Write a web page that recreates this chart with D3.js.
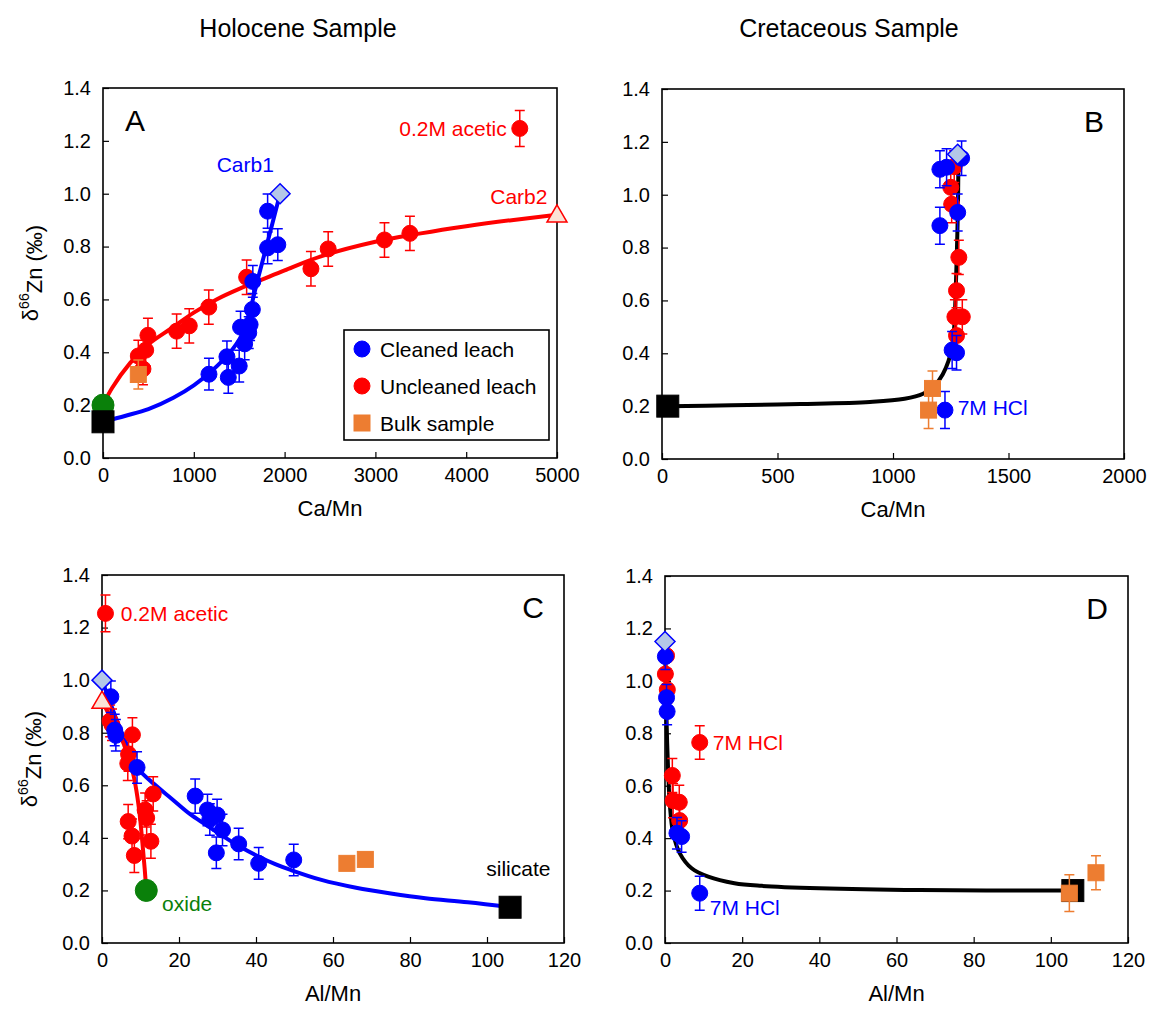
<!DOCTYPE html>
<html>
<head>
<meta charset="utf-8">
<script src="https://cdn.jsdelivr.net/npm/d3@7"></script>
<style>
  body { margin: 0; background: #fff; }
  svg text { font-family: "Liberation Sans", Arial, Helvetica, sans-serif; fill: #000; }
</style>
</head>
<body>
<svg id="chart" width="1149" height="1019"></svg>
<script>
// ── data: [x, δ66Zn, ±err] ────────────────────────────────────────────────
// Panel A – Holocene, Ca/Mn
const holoCaCleaned = [
    [1167, 0.317, 0.06], [1380, 0.305, 0.06], [1365, 0.383, 0.06], [1500, 0.348, 0.06],
    [1560, 0.432, 0.06], [1605, 0.474, 0.06], [1515, 0.495, 0.06], [1620, 0.505, 0.06],
    [1645, 0.562, 0.06], [1650, 0.668, 0.06], [1813, 0.795, 0.06], [1925, 0.807, 0.06],
    [1813, 0.934, 0.065]
];
const holoCaUncleaned = [
    [440, 0.337, 0.06], [389, 0.386, 0.06], [470, 0.408, 0.06], [495, 0.464, 0.065],
    [811, 0.48, 0.065], [950, 0.5, 0.065], [1165, 0.571, 0.065], [1582, 0.684, 0.065],
    [2290, 0.716, 0.065], [2480, 0.791, 0.065], [3100, 0.825, 0.065], [3380, 0.85, 0.065],
    [4590, 1.247, 0.068]
];
const holoCaBulk = [[389, 0.316, 0.055]];
const holoCaCarb1Line = [
    [0, 0.137], [250, 0.16], [500, 0.185], [775, 0.228], [1000, 0.275], [1200, 0.33],
    [1400, 0.4], [1520, 0.46], [1620, 0.56], [1700, 0.67], [1800, 0.8], [1950, 1.0]
];
const holoCaCarb2Line = [
    [0, 0.2], [100, 0.265], [300, 0.36], [500, 0.43], [750, 0.49], [1000, 0.55],
    [1250, 0.6], [1500, 0.64], [1750, 0.675], [2000, 0.71], [2400, 0.763], [3000, 0.818],
    [3500, 0.85], [4000, 0.877], [4500, 0.9], [5000, 0.92]
];

// Panel B – Cretaceous, Ca/Mn
const cretCaCleaned = [
    [1203, 1.096, 0.07], [1232, 1.104, 0.07], [1203, 0.883, 0.07], [1280, 0.933, 0.07],
    [1297, 1.138, 0.065], [1256, 0.412, 0.07], [1275, 0.402, 0.065], [1225, 0.185, 0.07]
];
const cretCaUncleaned = [
    [1265, 1.106, 0.06], [1250, 1.028, 0.06], [1254, 0.964, 0.07], [1285, 0.763, 0.065],
    [1275, 0.637, 0.065], [1268, 0.538, 0.065], [1300, 0.538, 0.065], [1275, 0.467, 0.065]
];
const cretCaBulk = [[1171, 0.267, 0.066], [1154, 0.185, 0.07]];
const cretCaLine = [
    [25, 0.2], [300, 0.203], [600, 0.208], [900, 0.216], [1050, 0.228], [1130, 0.247],
    [1180, 0.278], [1215, 0.32], [1240, 0.37], [1256, 0.43], [1265, 0.5], [1272, 0.65],
    [1277, 0.8], [1281, 0.95], [1283, 1.1], [1284, 1.15]
];

// Panel C – Holocene, Al/Mn
const holoAlCleaned = [
    [2.3, 0.937, 0.06], [3.3, 0.81, 0.06], [3.6, 0.79, 0.06], [9.1, 0.668, 0.06],
    [24.2, 0.559, 0.065], [27.4, 0.506, 0.06], [29.9, 0.487, 0.06], [28, 0.47, 0.06],
    [31.3, 0.43, 0.06], [29.7, 0.343, 0.06], [35.5, 0.377, 0.06], [40.7, 0.303, 0.06],
    [49.8, 0.316, 0.06]
];
const holoAlUncleaned = [
    [0.9, 1.254, 0.07], [2.1, 0.845, 0.06], [2.6, 0.83, 0.06], [7.9, 0.792, 0.065],
    [6.9, 0.718, 0.065], [6.7, 0.683, 0.065], [13.3, 0.567, 0.065], [11.2, 0.506, 0.065],
    [11.6, 0.476, 0.065], [6.8, 0.462, 0.065], [7.8, 0.407, 0.065], [12.7, 0.387, 0.065],
    [8.4, 0.333, 0.065]
];
const holoAlBulk = [[63.6, 0.303, 0], [68.4, 0.318, 0]];
const holoAlCarb1Line = [
    [0, 1.0], [2, 0.92], [4, 0.84], [6, 0.77], [9.1, 0.668], [14.3, 0.595], [18, 0.55],
    [22.9, 0.49], [27, 0.45], [31.6, 0.405], [36, 0.365], [40.5, 0.33], [45, 0.3],
    [49, 0.278], [57, 0.24], [66, 0.21], [75, 0.188], [84, 0.17], [95, 0.155], [106, 0.136]
];
const holoAlCarb2Line = [
    [0, 0.92], [2, 0.865], [4, 0.81], [6, 0.745], [7.5, 0.68], [8.7, 0.6], [9.7, 0.5],
    [10.5, 0.38], [11.1, 0.28], [11.5, 0.2]
];

// Panel D – Cretaceous, Al/Mn
const cretAlCleaned = [
    [0.1, 1.093, 0.05], [0.4, 0.936, 0.05], [0.55, 0.883, 0.05], [3.1, 0.419, 0.06],
    [4.3, 0.406, 0.06], [9.0, 0.19, 0.065]
];
const cretAlUncleaned = [
    [0.4, 1.096, 0.05], [0.1, 1.026, 0.05], [0.6, 0.966, 0.05], [9.0, 0.765, 0.064],
    [1.9, 0.639, 0.065], [2.1, 0.543, 0.065], [3.7, 0.537, 0.065], [3.8, 0.467, 0.065]
];
const cretAlBulk = [[104.8, 0.19, 0.07], [111.7, 0.268, 0.065]];
const cretAlLine = [
    [0, 1.15], [0.2, 1.0], [0.4, 0.85], [0.8, 0.66], [1.25, 0.53], [2.1, 0.42],
    [3.8, 0.343], [6.9, 0.285], [11.2, 0.253], [18, 0.228], [25, 0.218], [40, 0.209],
    [66, 0.202], [105.7, 0.2]
];

// ── tick labels ───────────────────────────────────────────────────────────
const yTicks   = [0, 0.2, 0.4, 0.6, 0.8, 1.0, 1.2, 1.4];
const caTicksA = [0, 1000, 2000, 3000, 4000, 5000];
const caTicksB = [0, 500, 1000, 1500, 2000];
const alTicks  = [0, 20, 40, 60, 80, 100, 120];

// ── colours ───────────────────────────────────────────────────────────────
const BLUE = "#0000ff", RED = "#ff0000", ORANGE = "#ed7d31", GREEN = "#0a800a";

const svg = d3.select("#chart");

// ── panel definitions ─────────────────────────────────────────────────────
const panels = [
    {
        letter: "A", letterPos: "left",
        box: { x0: 103, x1: 557, y0: 88, y1: 458 },
        xDomain: [0, 5000], xTicks: caTicksA, xLabel: "Ca/Mn", yLabel: true,
        lines: [ { d: holoCaCarb2Line, c: RED }, { d: holoCaCarb1Line, c: BLUE } ],
        red: holoCaUncleaned, blue: holoCaCleaned, bulk: holoCaBulk,
        ends: [
            { t: "circle",   x: 0,    y: 0.2,   fill: GREEN, stroke: GREEN, s: 11 },
            { t: "square",   x: 0,    y: 0.137, fill: "#000", stroke: "#000", s: 11 },
            { t: "diamond",  x: 1950, y: 1.0,   fill: "#b4c7e7", stroke: BLUE, s: 10 },
            { t: "triangle", x: 5000, y: 0.92,  fill: "#fbe2d5", stroke: RED, s: 10 }
        ],
        notes: [
            { text: "0.2M acetic", x: 4446, y: 1.247, c: RED,  a: "end" },
            { text: "Carb1",       x: 1567, y: 1.109, c: BLUE, a: "middle" },
            { text: "Carb2",       x: 4580, y: 0.99,  c: RED,  a: "middle" }
        ],
        legend: true
    },
    {
        letter: "B", letterPos: "right",
        box: { x0: 662, x1: 1124, y0: 89, y1: 459 },
        xDomain: [0, 2000], xTicks: caTicksB, xLabel: "Ca/Mn", yLabel: false,
        lines: [ { d: cretCaLine, c: "#000" } ],
        red: cretCaUncleaned, blue: cretCaCleaned, bulk: cretCaBulk,
        ends: [
            { t: "square",  x: 25,   y: 0.2,   fill: "#000", stroke: "#000", s: 11 },
            { t: "diamond", x: 1280, y: 1.153, fill: "#b4c7e7", stroke: BLUE, s: 10 }
        ],
        notes: [ { text: "7M HCl", x: 1280, y: 0.193, c: BLUE, a: "start" } ]
    },
    {
        letter: "C", letterPos: "right",
        box: { x0: 102, x1: 564, y0: 575, y1: 943 },
        xDomain: [0, 120], xTicks: alTicks, xLabel: "Al/Mn", yLabel: true,
        lines: [ { d: holoAlCarb1Line, c: BLUE }, { d: holoAlCarb2Line, c: RED } ],
        red: holoAlUncleaned, blue: holoAlCleaned, bulk: holoAlBulk,
        ends: [
            { t: "circle",   x: 11.5, y: 0.2,   fill: GREEN, stroke: GREEN, s: 11 },
            { t: "square",   x: 106,  y: 0.136, fill: "#000", stroke: "#000", s: 11 },
            { t: "triangle", x: 0,    y: 0.92,  fill: "#fbe2d5", stroke: RED, s: 10 },
            { t: "diamond",  x: 0,    y: 1.0,   fill: "#b4c7e7", stroke: BLUE, s: 10 }
        ],
        notes: [
            { text: "0.2M acetic", x: 4.9,  y: 1.255, c: RED,   a: "start" },
            { text: "oxide",       x: 15.6, y: 0.152, c: GREEN, a: "start" },
            { text: "silicate",    x: 99.8, y: 0.284, c: "#000", a: "start" }
        ]
    },
    {
        letter: "D", letterPos: "right",
        box: { x0: 665, x1: 1128, y0: 576, y1: 943 },
        xDomain: [0, 120], xTicks: alTicks, xLabel: "Al/Mn", yLabel: false,
        lines: [ { d: cretAlLine, c: "#000" } ],
        red: cretAlUncleaned, blue: cretAlCleaned, bulk: cretAlBulk,
        ends: [
            { t: "square",  x: 105.7, y: 0.2,  fill: "#000", stroke: "#000", s: 11 },
            { t: "diamond", x: 0,     y: 1.15, fill: "#b4c7e7", stroke: BLUE, s: 10 }
        ],
        endsBelowBulk: true,
        notes: [
            { text: "7M HCl", x: 12.4, y: 0.765, c: RED,  a: "start" },
            { text: "7M HCl", x: 11.6, y: 0.137, c: BLUE, a: "start" }
        ]
    }
];

// ── titles ────────────────────────────────────────────────────────────────
svg.append("text").attr("x", 298).attr("y", 37).attr("text-anchor", "middle")
    .style("font-size", "25px").text("Holocene Sample");
svg.append("text").attr("x", 849).attr("y", 37).attr("text-anchor", "middle")
    .style("font-size", "25px").text("Cretaceous Sample");

// ── helpers ───────────────────────────────────────────────────────────────
function marker(g, t, cx, cy, s, fill, stroke) {
    if (t === "circle") {
        g.append("circle").attr("cx", cx).attr("cy", cy).attr("r", s)
            .attr("fill", fill).attr("stroke", stroke).attr("stroke-width", 1);
    } else if (t === "square") {
        g.append("rect").attr("x", cx - s).attr("y", cy - s)
            .attr("width", 2 * s).attr("height", 2 * s)
            .attr("fill", fill).attr("stroke", stroke).attr("stroke-width", 1);
    } else if (t === "diamond") {
        g.append("path")
            .attr("d", `M${cx},${cy - s}L${cx + s},${cy}L${cx},${cy + s}L${cx - s},${cy}Z`)
            .attr("fill", fill).attr("stroke", stroke).attr("stroke-width", 1.5);
    } else if (t === "triangle") {
        g.append("path")
            .attr("d", `M${cx},${cy - s}L${cx + s},${cy + s * 0.72}L${cx - s},${cy + s * 0.72}Z`)
            .attr("fill", fill).attr("stroke", stroke).attr("stroke-width", 1.5);
    }
}

function series(g, x, y, rows, colour, shape, size) {
    // error bars
    rows.filter(d => d[2] > 0).forEach(d => {
        const px = x(d[0]), top = y(d[1] + d[2]), bot = y(d[1] - d[2]);
        g.append("path")
            .attr("d", `M${px},${top}V${bot}M${px - 5},${top}H${px + 5}M${px - 5},${bot}H${px + 5}`)
            .attr("stroke", colour).attr("stroke-width", 1.5).attr("fill", "none");
    });
    rows.forEach(d => marker(g, shape, x(d[0]), y(d[1]), size, colour, colour));
}

// ── draw panels ───────────────────────────────────────────────────────────
panels.forEach(p => {
    const b = p.box;
    const x = d3.scaleLinear().domain(p.xDomain).range([b.x0, b.x1]);
    const y = d3.scaleLinear().domain([0, 1.4]).range([b.y1, b.y0]);
    const g = svg.append("g");

    // x axis
    const xa = g.append("g").attr("transform", `translate(0,${b.y1})`)
        .call(d3.axisBottom(x).tickValues(p.xTicks).tickSizeInner(-6).tickSizeOuter(0)
            .tickPadding(10).tickFormat(d3.format("d")));
    xa.selectAll("path").remove();
    xa.selectAll("line").attr("stroke", "#000").attr("stroke-width", 1.2);
    xa.selectAll("text").style("font-size", "20px").attr("fill", "#000");

    // y axis
    const ya = g.append("g").attr("transform", `translate(${b.x0},0)`)
        .call(d3.axisLeft(y).tickValues(yTicks).tickSizeInner(-6).tickSizeOuter(0)
            .tickPadding(12).tickFormat(d3.format(".1f")));
    ya.selectAll("path").remove();
    ya.selectAll("line").attr("stroke", "#000").attr("stroke-width", 1.2);
    ya.selectAll("text").style("font-size", "20px").attr("fill", "#000");

    // frame
    g.append("rect").attr("x", b.x0).attr("y", b.y0)
        .attr("width", b.x1 - b.x0).attr("height", b.y1 - b.y0)
        .attr("fill", "none").attr("stroke", "#000").attr("stroke-width", 1.6);

    // mixing curves
    const line = d3.line().x(d => x(d[0])).y(d => y(d[1])).curve(d3.curveCatmullRom.alpha(0.5));
    p.lines.forEach(l => {
        g.append("path").attr("d", line(l.d)).attr("fill", "none")
            .attr("stroke", l.c).attr("stroke-width", 4).attr("stroke-linecap", "round");
    });

    // data points
    series(g, x, y, p.red, RED, "circle", 8);
    series(g, x, y, p.blue, BLUE, "circle", 8);
    if (p.endsBelowBulk) {
        p.ends.forEach(e => marker(g, e.t, x(e.x), y(e.y), e.s, e.fill, e.stroke));
        series(g, x, y, p.bulk, ORANGE, "square", 8);
    } else {
        series(g, x, y, p.bulk, ORANGE, "square", 8);
        p.ends.forEach(e => marker(g, e.t, x(e.x), y(e.y), e.s, e.fill, e.stroke));
    }

    // annotations
    p.notes.forEach(n => {
        g.append("text").attr("x", x(n.x)).attr("y", y(n.y))
            .attr("dominant-baseline", "central").attr("text-anchor", n.a)
            .style("font-size", "21px").style("fill", n.c).text(n.text);
    });

    // panel letter
    g.append("text")
        .attr("x", p.letterPos === "left" ? b.x0 + 22 : b.x1 - 20)
        .attr("y", b.y0 + 32)
        .attr("text-anchor", p.letterPos === "left" ? "start" : "end")
        .attr("dominant-baseline", "central")
        .style("font-size", "30px").text(p.letter);

    // x label
    g.append("text").attr("x", (b.x0 + b.x1) / 2).attr("y", b.y1 + 58)
        .attr("text-anchor", "middle").style("font-size", "22px").text(p.xLabel);

    // y label
    if (p.yLabel) {
        const yl = g.append("text")
            .attr("transform", `translate(${b.x0 - 73},${(b.y0 + b.y1) / 2}) rotate(-90)`)
            .attr("text-anchor", "middle").attr("dominant-baseline", "central")
            .style("font-size", "22px");
        yl.append("tspan").text("δ");
        yl.append("tspan").attr("dy", "-0.45em").style("font-size", "14px").text("66");
        yl.append("tspan").attr("dy", "0.45em").text("Zn (‰)");
    }

    // legend
    if (p.legend) {
        const lg = g.append("g");
        lg.append("rect").attr("x", 344).attr("y", 330).attr("width", 205).attr("height", 110)
            .attr("fill", "#fff").attr("stroke", "#000").attr("stroke-width", 1.6);
        const items = [
            { label: "Cleaned leach",   c: BLUE,   t: "circle" },
            { label: "Uncleaned leach", c: RED,    t: "circle" },
            { label: "Bulk sample",     c: ORANGE, t: "square" }
        ];
        items.forEach((it, i) => {
            const cy = 349 + i * 37;
            marker(lg, it.t, 362, cy, 8, it.c, it.c);
            lg.append("text").attr("x", 380).attr("y", cy)
                .attr("dominant-baseline", "central")
                .style("font-size", "21px").text(it.label);
        });
    }
});
</script>
</body>
</html>
